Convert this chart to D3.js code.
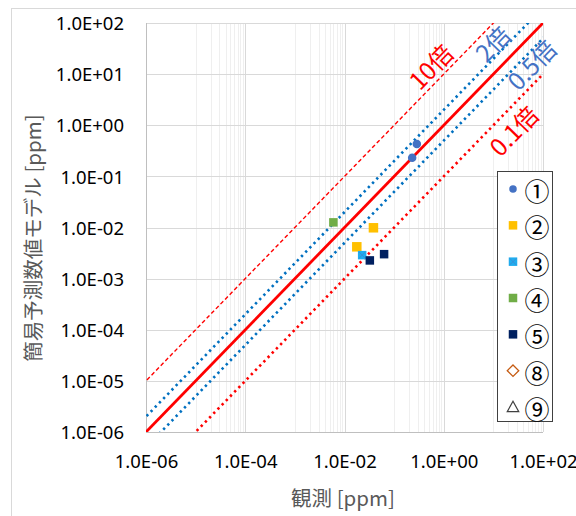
<!DOCTYPE html>
<html><head><meta charset="utf-8">
<script src="https://cdn.jsdelivr.net/npm/d3@7"></script>
<style>
html,body{margin:0;padding:0;background:#fff;}
svg{display:block;}
</style>
</head><body>
<svg id="chart" width="576" height="516"></svg>
<script>
// ---- data ----
const xTickValues = [1e-6, 1e-4, 1e-2, 1e0, 1e2];
const xTickLabels = ["1.0E-06", "1.0E-04", "1.0E-02", "1.0E+00", "1.0E+02"];
const yTickValues = [1e-6, 1e-5, 1e-4, 1e-3, 1e-2, 1e-1, 1e0, 1e1, 1e2];
const yTickLabels = ["1.0E-06", "1.0E-05", "1.0E-04", "1.0E-03", "1.0E-02", "1.0E-01", "1.0E+00", "1.0E+01", "1.0E+02"];
const ratioValues = [10, 2, 1, 0.5, 0.1];
const ratioLabels = ["10倍", "2倍", "", "0.5倍", "0.1倍"];
const seriesNames = ["①", "②", "③", "④", "⑤", "⑧", "⑨"];
const s1 = [[0.287, 0.429], [0.231, 0.231]];
const s2 = [[0.0383, 0.00987], [0.0177, 0.00419]];
const s3 = [[0.0227, 0.00288]];
const s4 = [[0.00597, 0.0126]];
const s5 = [[0.0324, 0.00227], [0.0628, 0.00301]];
const s8 = [];
const s9 = [];
const seriesData = [s1, s2, s3, s4, s5, s8, s9];

// ---- styles ----
const seriesStyle = [
  {type: "circle", fill: "#4472C4"},
  {type: "square", fill: "#FFC000"},
  {type: "cross", fill: "#1FADEF", stroke: "#3A8FD6"},
  {type: "square", fill: "#70AD47"},
  {type: "square", fill: "#002060"},
  {type: "diamond", fill: "none", stroke: "#C55A11"},
  {type: "triangle", fill: "none", stroke: "#404040"}
];
const ratioStyle = [
  {color: "#FF0000", width: 1.4, dash: "4 2.6", label: {x: 430, y: 66, color: "#FF0000"}},
  {color: "#0070C0", width: 2.6, dash: "2.4 3.6", label: {x: 492, y: 43, color: "#4472C4"}},
  {color: "#FF0000", width: 2.8, dash: null, label: null},
  {color: "#0070C0", width: 2.6, dash: "2.4 3.6", label: {x: 531, y: 64, color: "#4472C4"}},
  {color: "#FF0000", width: 2.6, dash: "2.4 3.6", label: {x: 513, y: 130, color: "#FF0000"}}
];

const svg = d3.select("#chart");
const L = 146, R = 543, T = 23, B = 432;
const x = d3.scaleLog().domain([1e-6, 1e2]).range([L, R]);
const y = d3.scaleLog().domain([1e-6, 1e2]).range([B, T]);
const tickFont = "'Noto Sans', 'Liberation Sans', sans-serif";
const jpFont = "'Noto Sans CJK JP', 'Noto Sans', sans-serif";

// outer border
svg.append("rect").attr("x", 11.5).attr("y", 8.5).attr("width", 600).attr("height", 600)
  .attr("fill", "#fff").attr("stroke", "#d9d9d9").attr("stroke-width", 1);

// plot background
svg.append("rect").attr("x", L).attr("y", T).attr("width", R - L).attr("height", B - T).attr("fill", "#fff");

// minor vertical gridlines: in each 2-decade span from 10^(2k), at 10^(2k+1)*m
const minorX = [];
[-6, -4, -2, 0].forEach(e => { for (let m = 1; m <= 9; m++) minorX.push(m * Math.pow(10, e + 1)); });
svg.append("g").selectAll("line").data(minorX).join("line")
  .attr("x1", d => Math.round(x(d)) + 0.5).attr("x2", d => Math.round(x(d)) + 0.5)
  .attr("y1", T).attr("y2", B)
  .attr("stroke", "#efefef").attr("stroke-width", 1);

// major gridlines
svg.append("g").selectAll("line").data(xTickValues).join("line")
  .attr("x1", d => Math.round(x(d)) + 0.5).attr("x2", d => Math.round(x(d)) + 0.5)
  .attr("y1", T).attr("y2", B)
  .attr("stroke", "#d9d9d9").attr("stroke-width", 1);
svg.append("g").selectAll("line").data(yTickValues).join("line")
  .attr("y1", d => Math.round(y(d)) + 0.5).attr("y2", d => Math.round(y(d)) + 0.5)
  .attr("x1", L).attr("x2", R)
  .attr("stroke", "#d9d9d9").attr("stroke-width", 1);

// axis lines
svg.append("line").attr("x1", L + 0.5).attr("x2", L + 0.5).attr("y1", T).attr("y2", B + 0.5)
  .attr("stroke", "#bfbfbf").attr("stroke-width", 1);
svg.append("line").attr("x1", L).attr("x2", R).attr("y1", B + 0.5).attr("y2", B + 0.5)
  .attr("stroke", "#bfbfbf").attr("stroke-width", 1);

// tick labels via d3 axes (no lines)
const xAxis = d3.axisBottom(x).tickValues(xTickValues).tickSize(0)
  .tickFormat((d, i) => xTickLabels[i]);
const gx = svg.append("g").attr("transform", `translate(0,${B})`).call(xAxis);
gx.select(".domain").remove();
gx.selectAll("text").attr("dy", null).attr("y", 36).attr("font-family", tickFont)
  .attr("font-size", 18.5).attr("fill", "#000");

const yAxis = d3.axisLeft(y).tickValues(yTickValues).tickSize(0)
  .tickFormat((d, i) => yTickLabels[i]);
const gy = svg.append("g").attr("transform", `translate(${L},0)`).call(yAxis);
gy.select(".domain").remove();
gy.selectAll("text").attr("x", -22).attr("dy", "0.36em").attr("font-family", tickFont)
  .attr("font-size", 18.5).attr("fill", "#000");

// clip
svg.append("clipPath").attr("id", "plotclip").append("rect")
  .attr("x", L).attr("y", T).attr("width", R - L).attr("height", B - T);

// ratio lines
const lineGen = d3.line().x(d => x(d[0])).y(d => y(d[1]));
const gLines = svg.append("g").attr("clip-path", "url(#plotclip)");
ratioValues.forEach((k, i) => {
  const st = ratioStyle[i];
  const pts = [[1e-7, k * 1e-7], [1e3, k * 1e3]];
  gLines.append("path").attr("d", lineGen(pts)).attr("fill", "none")
    .attr("stroke", st.color).attr("stroke-width", st.width)
    .attr("stroke-dasharray", st.dash);
});

// ratio labels
const angle = Math.atan((y(1e-2) - y(1e-1)) / (x(1e-1) - x(1e-2))) * 180 / Math.PI;
ratioValues.forEach((k, i) => {
  const st = ratioStyle[i];
  if (!st.label) return;
  svg.append("text").attr("x", st.label.x).attr("y", st.label.y)
    .attr("transform", `rotate(${-angle},${st.label.x},${st.label.y})`)
    .attr("text-anchor", "middle").attr("dominant-baseline", "central")
    .attr("font-family", jpFont).attr("font-size", 24).attr("fill", st.label.color)
    .text(ratioLabels[i]);
});

// markers
function drawMarker(g, type, cx, cy, sz, st) {
  if (type === "circle") {
    g.append("circle").attr("cx", cx).attr("cy", cy).attr("r", sz / 2).attr("fill", st.fill);
  } else if (type === "square") {
    g.append("rect").attr("x", cx - sz / 2).attr("y", cy - sz / 2).attr("width", sz).attr("height", sz)
      .attr("fill", st.fill);
  } else if (type === "cross") {
    g.append("rect").attr("x", cx - sz / 2).attr("y", cy - sz / 2).attr("width", sz).attr("height", sz)
      .attr("fill", st.fill);
    const h = sz / 2 - 1;
    g.append("path").attr("d", `M${cx - h},${cy - h}L${cx + h},${cy + h}M${cx - h},${cy + h}L${cx + h},${cy - h}`)
      .attr("stroke", st.stroke).attr("stroke-width", 1);
  } else if (type === "diamond") {
    const h = sz / 2 + 1.5;
    g.append("path").attr("d", `M${cx},${cy - h}L${cx + h},${cy}L${cx},${cy + h}L${cx - h},${cy}Z`)
      .attr("fill", "#fff").attr("stroke", st.stroke).attr("stroke-width", 1.3);
  } else if (type === "triangle") {
    const h = sz / 2 + 1.5;
    g.append("path").attr("d", `M${cx},${cy - h}L${cx + h},${cy + h * 0.8}L${cx - h},${cy + h * 0.8}Z`)
      .attr("fill", "#fff").attr("stroke", st.stroke).attr("stroke-width", 1.2);
  }
}
const gPts = svg.append("g").attr("clip-path", "url(#plotclip)");
seriesData.forEach((data, i) => {
  const st = seriesStyle[i];
  const sz = st.type === "circle" ? 8.5 : (i === 1 ? 9.5 : 8.5);
  data.forEach(d => drawMarker(gPts, st.type, x(d[0]), y(d[1]), sz, st));
});

// legend
const lg = svg.append("g");
lg.append("rect").attr("x", 497.5).attr("y", 171.5).attr("width", 55).attr("height", 250)
  .attr("fill", "#fff").attr("stroke", "#404040").attr("stroke-width", 1);
const legendY = d3.scalePoint().domain(seriesNames).range([189, 407]);
seriesNames.forEach((name, i) => {
  const st = seriesStyle[i];
  const cy = legendY(name);
  drawMarker(lg, st.type, 513, cy, st.type === "circle" ? 7.5 : 8.5, st);
  lg.append("text").attr("x", 537).attr("y", cy + 1).attr("text-anchor", "middle")
    .attr("dominant-baseline", "central").attr("font-family", jpFont).attr("font-size", 25)
    .attr("fill", "#000").text(name);
});

// axis titles
svg.append("text").attr("x", 343).attr("y", 497).attr("text-anchor", "middle")
  .attr("dominant-baseline", "central").attr("font-family", jpFont).attr("font-size", 20.5)
  .attr("fill", "#595959").text("観測 [ppm]");
svg.append("text").attr("transform", "translate(32,238) rotate(-90)").attr("text-anchor", "middle")
  .attr("dominant-baseline", "central").attr("font-family", jpFont).attr("font-size", 20.5)
  .attr("fill", "#595959").text("簡易予測数値モデル [ppm]");
</script>
</body></html>
